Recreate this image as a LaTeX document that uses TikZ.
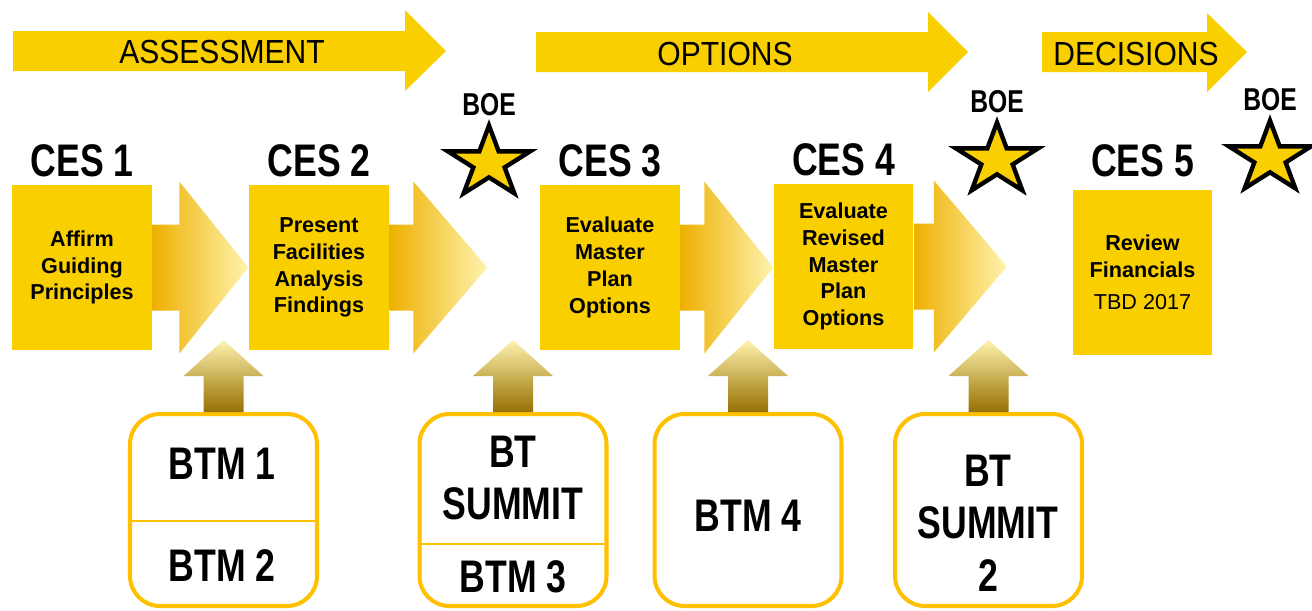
\documentclass[tikz,border=0pt]{standalone}
\usepackage{fontspec}
\setmainfont{Liberation Sans}
\newfontfamily\narrowfont[FakeStretch=0.78]{Liberation Sans}
\newfontfamily\bannerfont[FakeStretch=0.9]{Liberation Sans}
\usetikzlibrary{positioning,calc,shapes.geometric}
\definecolor{boxyellow}{RGB}{250,207,0}
\definecolor{rimorange}{RGB}{255,192,0}
\definecolor{arrowgold}{RGB}{238,176,0}
\definecolor{arrowpale}{RGB}{255,243,175}
\definecolor{stemgold}{RGB}{255,192,0}
\definecolor{stemdark}{RGB}{150,112,0}
\tikzset{
  banner/.style={fill=boxyellow},
  bannertext/.style={inner sep=0pt, font=\bannerfont\fontsize{19}{19}\selectfont},
  cesbox/.style={fill=boxyellow, minimum width=2.8cm, minimum height=3.3cm,
    align=center, inner sep=0pt, font=\bfseries\fontsize{12.3}{15.3}\selectfont},
  ceslabel/.style={inner sep=0pt, font=\narrowfont\bfseries\fontsize{26}{26}\selectfont},
  boestar/.style={star, star points=5, star point ratio=2.618, draw=black,
    line width=2.5pt, fill=boxyellow, minimum size=1.5cm, inner sep=0pt,
    xscale=1.15},
  boelabel/.style={inner sep=0pt, font=\narrowfont\bfseries\fontsize{18}{18}\selectfont},
  flowarrow/.style={left color=arrowgold, right color=arrowpale},
  feedarrow/.style={top color=arrowpale, middle color=stemgold, bottom color=stemdark},
  btmbox/.style={draw=rimorange, line width=2.3pt, rounded corners=0.6cm,
    fill=white, minimum width=3.74cm, minimum height=3.84cm},
  btmtext/.style={align=center, inner sep=0pt,
    font=\narrowfont\bfseries\fontsize{26}{30}\selectfont},
  divider/.style={draw=rimorange, line width=1.2pt}
}
\begin{document}
\begin{tikzpicture}[x=0.02cm, y=-0.02cm]
  \useasboundingbox (0,0) rectangle (1312,610);

  \fill[banner] (13,31) -- (405,31) -- (405,10) -- (446,51) -- (405,91)
    -- (405,71) -- (13,71) -- cycle;
  \fill[banner] (536,32) -- (928,32) -- (928,12) -- (968,52) -- (928,92)
    -- (928,72) -- (536,72) -- cycle;
  \fill[banner] (1042,32) -- (1207,32) -- (1207,13) -- (1247,52) -- (1207,92)
    -- (1207,72) -- (1042,72) -- cycle;
  \node[bannertext] (ph1) at (222,52) {ASSESSMENT};
  \node[bannertext] (ph2) at (725,54) {OPTIONS};
  \node[bannertext] (ph3) at (1136,54) {DECISIONS};

  \node[cesbox] (c1) at (82,267.5) {Affirm\\Guiding\\Principles};
  \node[cesbox] (c2) at (319,267.5) {Present\\Facilities\\Analysis\\Findings};
  \node[cesbox] (c3) at (610,267.5) {Evaluate\\Master\\Plan\\Options};
  \node[cesbox] (c4) at (843.5,266.5) {Evaluate\\Revised\\Master\\Plan\\Options};
  \node[cesbox] (c5) at (1142.5,272.5) {Review\\Financials\\[3pt]{\mdseries TBD 2017}};

  \node[ceslabel, above=4pt of c1] (l1) {CES 1};
  \node[ceslabel, above=4pt of c2] (l2) {CES 2};
  \node[ceslabel, above=4pt of c3] (l3) {CES 3};
  \node[ceslabel, above=4pt of c4] (l4) {CES 4};
  \node[ceslabel, above=7pt of c5] (l5) {CES 5};

  \foreach \n/\b/\h in {c1/27/69, c2/24/74, c3/24/69, c4/20/73}
    \shade[flowarrow] ($(\n.east)+(0,-43)$) -- ++(\b,0) -- ++(0,-43)
      -- ++(\h,86) -- ++(-\h,86) -- ++(0,-43) -- ++(-\b,0) -- cycle;

  \node[boestar] (s1) at (489,163) {};
  \node[boestar] (s2) at (997,160) {};
  \node[boestar] (s3) at (1270,158) {};
  \node[boelabel, above=1pt of s1] (o1) {BOE};
  \node[boelabel, above=1pt of s2] (o2) {BOE};
  \node[boelabel, above=1pt of s3] (o3) {BOE};

  \node[btmbox] (b1) at (223.5,510) {};
  \node[btmbox] (b2) at (513,510) {};
  \node[btmbox] (b3) at (748,510) {};
  \node[btmbox] (b4) at (988.5,510) {};
  \draw[divider] ([yshift=-0.22cm]b1.west) -- ([yshift=-0.22cm]b1.east);
  \draw[divider] ([yshift=-0.68cm]b2.west) -- ([yshift=-0.68cm]b2.east);

  \node[btmtext] (t1) at (222,464) {BTM 1};
  \node[btmtext] (t2) at (222,566) {BTM 2};
  \node[btmtext] (t3) at (513,478) {BT\\SUMMIT};
  \node[btmtext] (t4) at (513,577) {BTM 3};
  \node[btmtext] (t5) at (748,516) {BTM 4};
  \node[btmtext] (t6) at (988,523) {BT\\SUMMIT\\2};

  \foreach \n in {b1,b2,b3,b4}
    \shade[feedarrow] ($(\n.north)+(-20,0)$) -- ++(0,-36) -- ++(-20,0)
      -- ++(40,-36) -- ++(40,36) -- ++(-20,0) -- ++(0,36) -- cycle;
\end{tikzpicture}
\end{document}
